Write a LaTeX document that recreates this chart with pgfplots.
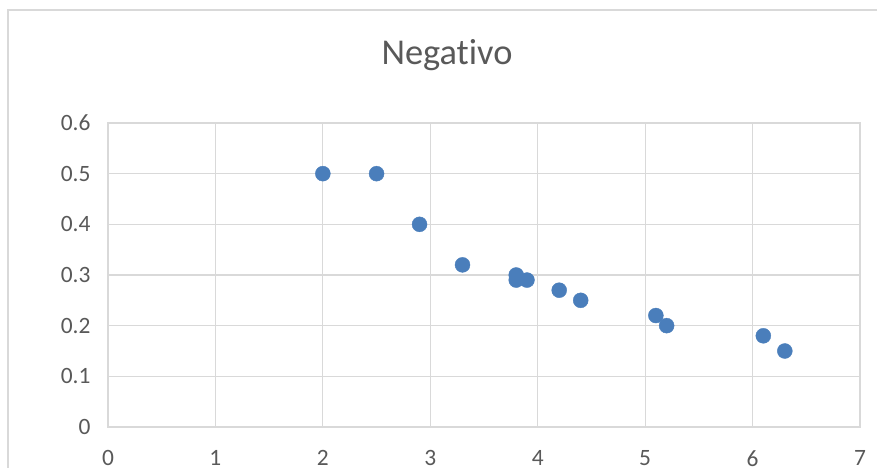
\documentclass[border=0pt]{standalone}
\usepackage{fontspec}
\setmainfont{Carlito}[Ligatures=NoCommon]
\usepackage{pgfplots}
\pgfplotsset{compat=1.18}
\definecolor{gridgray}{HTML}{D9D9D9}
\definecolor{textgray}{HTML}{595959}
\definecolor{dotblue}{HTML}{4A7EBB}
\begin{document}
\begin{tikzpicture}
\path[use as bounding box] (-108bp,-41bp) rectangle (769bp,427bp);
% chart frame
\draw[gridgray, line width=1.2bp] (-100bp,-80bp) -- (-100bp,417bp) -- (800bp,417bp);
\begin{axis}[
  at={(0,0)}, anchor=south west,
  scale only axis,
  width=752bp, height=304bp,
  xmin=0, xmax=7, ymin=0, ymax=0.6,
  xtick={0,1,...,7},
  ytick={0,0.1,0.2,0.3,0.4,0.5,0.6},
  yticklabel style={/pgf/number format/fixed, /pgf/number format/precision=1},
  /pgf/number format/assume math mode=true,
  grid=major,
  major grid style={gridgray, line width=1.2bp},
  axis line style={gridgray, line width=1.2bp},
  major tick length=0pt,
  tick label style={font=\fontsize{23.5}{28}\selectfont, text=textgray},
  xticklabel style={yshift=-20bp},
  yticklabel style={xshift=-14bp},
  clip=false,
]
\addplot[only marks, mark=*, mark size=7.5bp, mark options={fill=dotblue, draw=dotblue}]
coordinates {
  (2.0,0.50) (2.5,0.50) (2.9,0.40) (3.3,0.32) (3.8,0.30) (3.8,0.29)
  (3.9,0.29) (4.2,0.27) (4.4,0.25) (5.1,0.22) (5.2,0.20) (6.1,0.18)
  (6.3,0.15)
};
\end{axis}
\node[anchor=base, text=textgray, font=\fontsize{36.5}{42}\selectfont] at (339bp,362bp) {Negativo};
\end{tikzpicture}
\end{document}
